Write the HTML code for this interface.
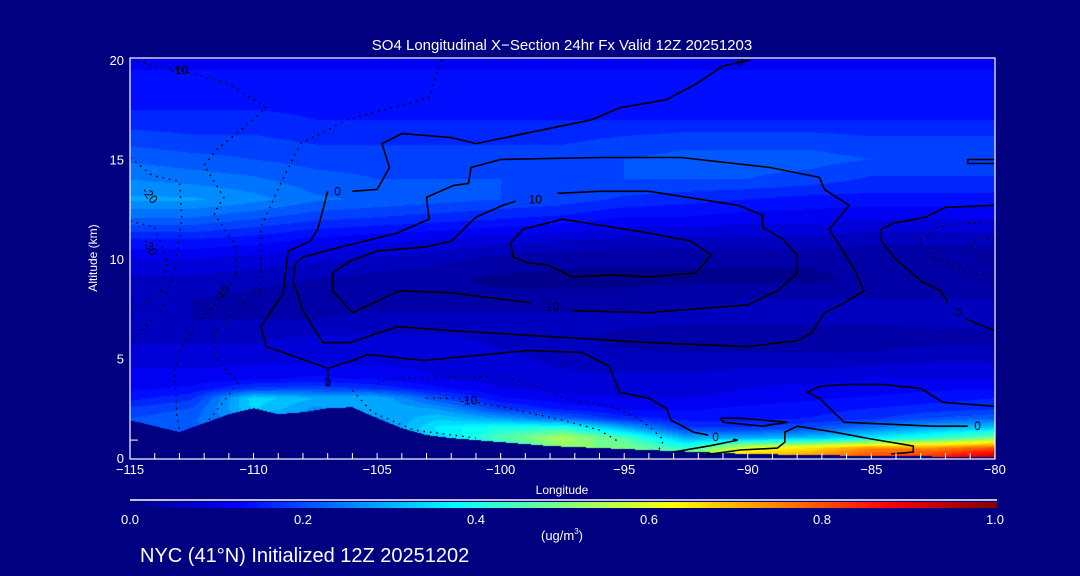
<!DOCTYPE html>
<html><head><meta charset="utf-8">
<style>
html,body{margin:0;padding:0;background:#000080;}
#wrap{position:relative;width:1080px;height:576px;overflow:hidden;background:#000080;font-family:"Liberation Sans",sans-serif;}
#field{position:absolute;left:130px;top:58px;}
#ov{position:absolute;left:0;top:0;}
</style></head>
<body>
<div id="wrap">
<canvas id="field" width="865" height="400"></canvas>
<svg id="ov" width="1080" height="576" xmlns="http://www.w3.org/2000/svg">
<defs><linearGradient id="jet" x1="0" x2="1" y1="0" y2="0">
<stop offset="0" stop-color="#000080"/><stop offset="0.125" stop-color="#0000ff"/><stop offset="0.375" stop-color="#00ffff"/><stop offset="0.625" stop-color="#ffff00"/><stop offset="0.875" stop-color="#ff0000"/><stop offset="1" stop-color="#800000"/></linearGradient></defs>
<text x="562" y="50" fill="#fff" font-size="15" text-anchor="middle">SO4 Longitudinal X−Section 24hr  Fx Valid 12Z 20251203</text>
<g id="contours"></g>
<g id="clabels"></g>
<rect x="130" y="58" width="865" height="401" fill="none" stroke="#fff" stroke-width="1.2"/>
<g id="xaxis"></g>
<g id="yaxis"></g>
<text x="562" y="494" fill="#fff" font-size="12" text-anchor="middle">Longitude</text>
<text x="97" y="258" fill="#fff" font-size="12" text-anchor="middle" transform="rotate(-90 97 258)">Altitude (km)</text>
<line x1="130" y1="500" x2="997" y2="500" stroke="#fff" stroke-width="1.5"/>
<rect x="130" y="502" width="867" height="6" fill="url(#jet)"/>
<g id="cbar"></g>
<text x="562" y="540" fill="#fff" font-size="13" text-anchor="middle">(ug/m<tspan font-size="8" dy="-6">3</tspan><tspan dy="6">)</tspan></text>
<text x="140" y="562" fill="#fff" font-size="20">NYC (41°N) Initialized 12Z 20251202</text>
</svg>
</div>
<script>
const lons = [-115,-112.5,-110,-107.5,-105,-102.5,-100,-97.5,-95,-92.5,-90,-87.5,-85,-82.5,-80];
const alts = [20,19,18,17,16,15,14,13,12,11,10,9,8,7,6,5,4,3.5,3,2.5,2,1.5,1,0.5,0];
const conc = [
[.12,.12,.12,.12,.12,.12,.12,.12,.12,.12,.12,.12,.12,.12,.12],
[.13,.13,.13,.13,.13,.13,.13,.13,.13,.13,.13,.13,.13,.13,.13],
[.14,.14,.14,.14,.14,.14,.14,.14,.14,.14,.14,.14,.14,.14,.14],
[.16,.16,.16,.15,.15,.15,.15,.15,.15,.15,.15,.15,.15,.15,.15],
[.19,.18,.18,.17,.17,.17,.17,.17,.18,.19,.19,.19,.18,.18,.18],
[.22,.21,.2,.19,.19,.19,.19,.19,.2,.21,.21,.21,.2,.2,.2],
[.25,.24,.23,.21,.2,.2,.2,.2,.2,.2,.2,.19,.17,.17,.17],
[.28,.28,.26,.23,.22,.21,.2,.19,.17,.16,.15,.14,.14,.14,.14],
[.22,.22,.2,.18,.17,.16,.15,.14,.12,.12,.11,.11,.1,.1,.1],
[.15,.15,.14,.12,.11,.1,.09,.08,.07,.07,.07,.07,.06,.06,.06],
[.1,.1,.09,.08,.07,.06,.04,.03,.03,.03,.03,.03,.03,.03,.03],
[.07,.07,.06,.05,.04,.03,.02,.02,.02,.02,.02,.02,.03,.03,.03],
[.05,.05,.04,.03,.03,.03,.03,.03,.03,.04,.05,.05,.05,.05,.05],
[.05,.05,.05,.05,.06,.06,.06,.06,.06,.06,.06,.06,.06,.06,.06],
[.07,.07,.07,.08,.08,.08,.07,.06,.04,.03,.03,.03,.03,.04,.04],
[.09,.09,.09,.09,.09,.09,.08,.07,.06,.06,.06,.06,.06,.07,.07],
[.11,.11,.12,.13,.12,.1,.09,.08,.08,.08,.09,.09,.1,.1,.1],
[.12,.13,.18,.19,.17,.13,.1,.09,.09,.09,.1,.11,.11,.12,.12],
[.14,.17,.34,.3,.3,.2,.13,.11,.1,.1,.11,.12,.13,.14,.15],
[.18,.2,.33,.27,.3,.27,.18,.14,.12,.12,.13,.14,.15,.16,.17],
[.2,.22,.28,.25,.27,.32,.28,.22,.16,.14,.14,.15,.17,.2,.22],
[.2,.22,.25,.25,.25,.36,.4,.42,.3,.18,.18,.2,.25,.3,.33],
[.2,.22,.25,.25,.25,.33,.45,.55,.45,.3,.3,.32,.36,.42,.5],
[.2,.22,.25,.25,.25,.3,.4,.5,.5,.42,.6,.65,.74,.74,.8],
[.2,.22,.25,.25,.25,.3,.35,.45,.5,.55,.7,.75,.82,.85,.95]];
const terrainLons = [-115,-114,-113,-112,-111,-110,-109,-108,-107,-106,-105,-104,-103,-102,-101,-100,-99,-98,-97,-96,-95,-94,-93,-92,-91,-90,-89,-88,-87,-86,-85,-84,-83,-82,-81,-80];
const terrainAlt = [1.9,1.6,1.3,1.75,2.2,2.5,2.2,2.3,2.5,2.55,2.0,1.5,1.15,1.0,0.9,0.8,0.7,0.6,0.55,0.5,0.45,0.4,0.35,0.3,0.25,0.2,0.18,0.16,0.14,0.12,0.1,0.09,0.08,0.07,0.06,0.05];
const xTicks = [-115,-110,-105,-100,-95,-90,-85,-80];
const yTicks = [0,5,10,15,20];
const cbarTicks = [0.0,0.2,0.4,0.6,0.8,1.0];

const X = lon => 130 + (lon + 115) * 24.71;
const Y = alt => 458 - alt * 19.9;
const C = v => 130 + v * 865;

function jet(t){const c=x=>Math.max(0,Math.min(1,x));return [c(1.5-Math.abs(4*t-3)),c(1.5-Math.abs(4*t-2)),c(1.5-Math.abs(4*t-1))].map(v=>Math.round(v*255));}
function terrainAt(lon){for(let i=0;i<terrainLons.length-1;i++){if(lon<=terrainLons[i+1]){const f=(lon-terrainLons[i])/(terrainLons[i+1]-terrainLons[i]);return terrainAlt[i]+f*(terrainAlt[i+1]-terrainAlt[i]);}}return terrainAlt[terrainAlt.length-1];}
function valueAt(lon,alt){
  let fi=(lon-lons[0])/(lons[1]-lons[0]);fi=Math.max(0,Math.min(lons.length-1.0001,fi));const i=Math.floor(fi),fx=fi-i;
  let j=0;while(j<alts.length-2&&alt<alts[j+1])j++;
  const fy=Math.max(0,Math.min(1,(alts[j]-alt)/(alts[j]-alts[j+1])));
  const a=conc[j][i]*(1-fx)+conc[j][i+1]*fx,b=conc[j+1][i]*(1-fx)+conc[j+1][i+1]*fx;
  return a*(1-fy)+b*fy;
}
(function(){
  const cv=document.getElementById('field'),ctx=cv.getContext('2d');
  const W=cv.width,H=cv.height,img=ctx.createImageData(W,H);
  for(let j=0;j<H;j++){for(let i=0;i<W;i++){
    const lon=-115+(i+0.5)/24.71, alt=(H-j-0.5)/19.9;
    let v=0;
    if(alt>=terrainAt(lon)){v=valueAt(lon,alt);v=Math.floor(v/0.025)*0.025+0.0125;}
    const c=jet(Math.max(0,Math.min(1,v)));const k=(j*W+i)*4;
    img.data[k]=c[0];img.data[k+1]=c[1];img.data[k+2]=c[2];img.data[k+3]=255;}}
  ctx.putImageData(img,0,0);
})();

const solidContours = [
[[-89.9,20.0],[-91.0,19.7],[-92.1,18.8],[-93.3,18.0],[-95.2,17.6],[-96.3,17.0],[-101.0,15.8],[-102.0,16.1],[-104.0,16.3],[-104.8,15.8],[-104.5,14.6],[-105.0,13.5],[-106.0,13.4]],
[[-107.0,13.4],[-107.4,11.5],[-107.7,10.9],[-108.6,10.4],[-108.8,8.3],[-109.7,6.6],[-109.5,5.6],[-108.8,5.3],[-107.0,4.5],[-107.0,3.6]],
[[-107.0,4.5],[-106.0,4.9],[-105.4,5.2],[-103.1,4.9],[-98.9,5.4],[-96.7,5.3],[-95.6,4.6],[-95.2,3.3],[-94.0,3.0],[-93.3,2.5],[-93.1,1.9],[-92.2,1.3],[-91.6,1.15]],
[[-90.6,0.95],[-90.4,0.9],[-91.6,0.6],[-93.0,0.3]],
[[-96.0,15.1],[-100.0,15.0],[-101.2,14.6],[-101.3,13.8],[-101.9,13.7],[-103.0,13.1],[-102.9,12.0],[-104.2,11.3],[-106.5,10.6],[-108.0,10.1],[-108.3,9.8],[-108.4,8.9],[-108.0,7.4],[-107.2,5.8],[-106.1,5.8],[-104.2,6.6],[-102.0,6.4],[-94.0,5.8],[-90.0,5.6],[-88.0,5.9],[-87.4,6.3],[-86.9,7.3],[-86.1,7.8],[-85.3,8.4],[-85.7,9.5],[-86.7,11.5],[-86.1,12.4],[-85.9,12.7],[-86.9,13.5],[-87.1,14.1],[-89.1,14.6],[-92.7,15.1],[-96.0,15.1]],
[[-94.0,13.4],[-96.0,13.4],[-97.7,13.3]],
[[-99.4,12.9],[-99.9,12.7],[-101.0,12.1],[-102.0,10.9],[-103.1,10.6],[-105.0,10.4],[-106.1,9.9],[-106.8,9.3],[-106.8,8.4],[-106.0,7.3],[-104.1,8.4],[-102.0,8.3],[-98.8,7.8]],
[[-97.1,7.4],[-94.0,7.3],[-90.0,7.7],[-88.8,8.4],[-88.0,9.3],[-88.0,10.2],[-88.6,11.0],[-89.4,11.6],[-89.4,12.2],[-90.4,12.7],[-94.0,13.4]],
[[-94.0,11.3],[-97.5,12.0],[-99.1,11.5],[-99.6,10.8],[-99.5,10.1],[-98.9,9.8],[-98.1,9.7],[-97.1,9.1],[-95.5,9.2],[-94.0,9.1],[-92.1,9.3],[-91.5,10.2],[-92.3,10.9],[-94.0,11.3]],
[[-80.0,12.7],[-82.0,12.6],[-82.8,12.1],[-84.1,11.8],[-84.6,11.5],[-84.6,10.9],[-84.1,10.1],[-83.0,8.9],[-82.2,8.4],[-81.9,7.8]],
[[-81.2,7.0],[-80.0,6.4]],
[[-80.0,15.0],[-81.1,15.0],[-81.1,14.8],[-80.0,14.8]],
[[-80.0,2.6],[-82.1,2.8],[-83.0,3.5],[-84.6,3.7],[-86.0,3.7],[-87.1,3.6],[-87.6,3.3],[-87.1,3.0],[-86.1,1.8],[-82.5,1.6],[-81.1,1.6]],
[[-91.1,2.0],[-91.0,1.8],[-89.4,1.6],[-88.4,1.8],[-90.3,2.0],[-91.1,2.0]],
[[-91.8,0.15],[-90.3,0.4],[-88.8,0.5],[-88.5,0.8],[-88.5,1.3],[-88.0,1.6],[-86.5,1.3],[-85.2,1.0],[-83.3,0.6],[-83.3,0.3],[-84.2,0.2]]
];
const dottedContours = [
[[-114.7,19.9],[-113.0,19.5],[-111.0,18.8],[-109.5,17.6],[-110.4,16.6],[-111.5,15.5],[-112.0,14.7],[-111.2,13.1],[-111.6,12.3],[-110.7,10.6],[-110.7,9.3],[-111.1,8.3],[-112.2,6.9],[-113.0,5.4],[-113.2,4.4],[-113.1,2.1],[-113.0,1.4]],
[[-102.4,20.0],[-102.9,18.1],[-106.2,17.0],[-108.1,15.8],[-108.9,13.8],[-109.7,11.6],[-109.7,8.6],[-111.6,6.3],[-111.6,5.1],[-110.6,3.8],[-112.0,1.6]],
[[-115,15.1],[-114.1,14.2],[-113.0,13.9],[-112.9,12.0],[-113.2,9.4],[-113.7,7.5],[-115,5.8]],
[[-115,11.9],[-114.0,11.6],[-113.5,9.9],[-113.8,8.2],[-115,7.3]],
[[-105.0,3.7],[-104.5,4.0],[-100.1,4.1],[-98.9,3.8],[-97.5,3.0],[-95.5,2.6],[-94.6,2.1],[-94.0,1.6],[-93.4,0.9],[-93.6,0.4]],
[[-103.0,3.0],[-101.8,3.0],[-100.6,2.7],[-99.3,2.4],[-97.5,1.9],[-96.0,1.4],[-95.2,0.8]],
[[-106.0,3.4],[-105.2,2.3],[-103.5,1.4],[-101.0,1.0]],
[[-80,11.8],[-81.1,11.8],[-82.3,11.6],[-83.1,10.9],[-82.5,10.1],[-81.1,9.3],[-80,9.1]],
[[-80,11.0],[-80.5,11.0],[-81.0,10.8],[-80.7,10.1],[-80,9.8]]
];
const labelText = ['0','10','10','0','0','0','0','-10','-20','-30','-10','-10','0'];
const labelLon = [-106.6,-98.6,-97.9,-91.3,-90.3,-81.5,-80.7,-113.0,-114.2,-114.2,-111.3,-101.3,-107.0];
const labelAlt = [13.4,13.0,7.6,1.05,19.9,7.3,1.6,19.5,13.2,10.6,8.3,2.9,3.8];
const labelRot = [0,0,0,0,0,0,0,0,50,60,-45,0,0];

const NS='http://www.w3.org/2000/svg';
function mk(tag,attrs,parent){const e=document.createElementNS(NS,tag);for(const k in attrs)e.setAttribute(k,attrs[k]);parent.appendChild(e);return e;}
const cg=document.getElementById('contours');
solidContours.forEach(c=>{
  const p=mk('polyline',{points:c.map(q=>X(q[0]).toFixed(1)+','+Y(q[1]).toFixed(1)).join(' '),fill:'none',stroke:'#000','stroke-width':1.6},cg);
  
  
});
dottedContours.forEach(c=>{
  const p=mk('polyline',{points:c.map(q=>X(q[0]).toFixed(1)+','+Y(q[1]).toFixed(1)).join(' '),fill:'none',stroke:'#000','stroke-width':1.4,'stroke-dasharray':'1.5 5'},cg);
  
  
});
const lg=document.getElementById('clabels');
labelText.forEach((t,i)=>{
  const x=X(labelLon[i]),y=Y(labelAlt[i]);
  const e=mk('text',{x:x,y:y+4,fill:'#000','font-size':12,'text-anchor':'middle',transform:'rotate('+labelRot[i]+' '+x+' '+y+')'},lg);
  e.textContent=t;
  
  
});
const xg=document.getElementById('xaxis');
for(let lon=-115;lon<=-80;lon++){
  const t=mk('line',{x1:X(lon),x2:X(lon),y1:459,y2:453,stroke:'#fff','stroke-width':1},xg);
  
  
}
xTicks.forEach(v=>{
  const e=mk('text',{x:X(v),y:474,fill:'#fff','font-size':13,'text-anchor':'middle'},xg);
  e.textContent=(v<0?'−':'')+Math.abs(v);
  
  
});
const yg=document.getElementById('yaxis');
yTicks.forEach(v=>{
  const e=mk('text',{x:124,y:Y(v)+5,fill:'#fff','font-size':13,'text-anchor':'end'},yg);
  e.textContent=v;
  
  
});
const tk=mk('line',{x1:130,x2:138,y1:Y(0.9),y2:Y(0.9),stroke:'#fff','stroke-width':1},yg);


const cb=document.getElementById('cbar');
cbarTicks.forEach(v=>{
  const e=mk('text',{x:C(v),y:524,fill:'#fff','font-size':13,'text-anchor':'middle'},cb);
  e.textContent=v.toFixed(1);
  
  
});
</script>
</body></html>
